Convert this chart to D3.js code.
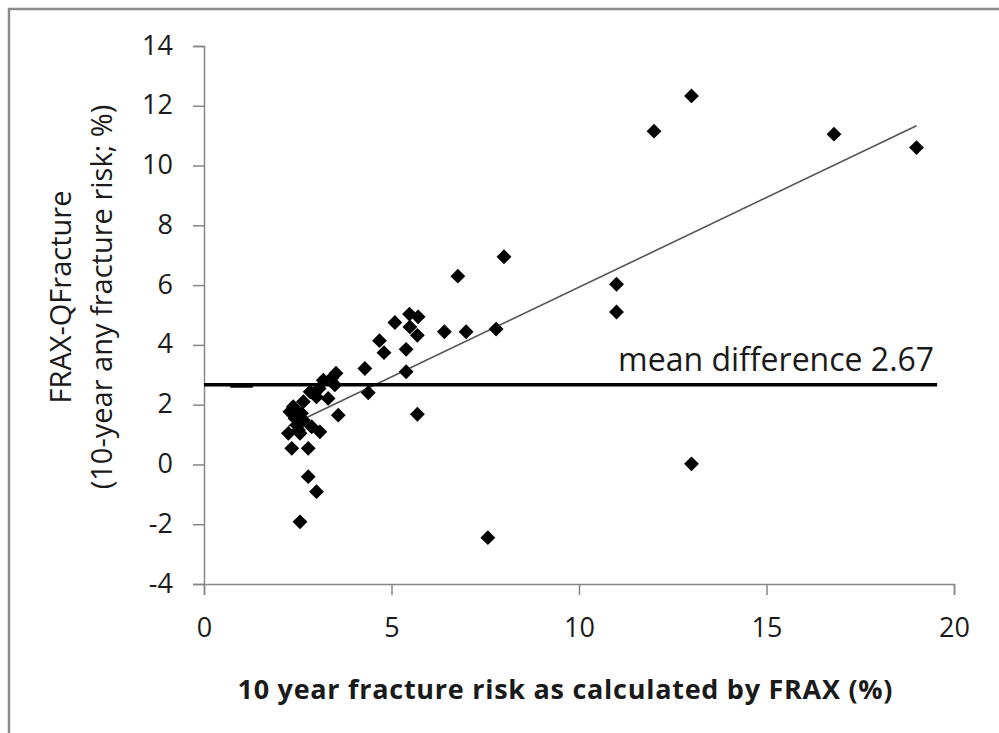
<!DOCTYPE html>
<html>
<head>
<meta charset="utf-8">
<script src="https://cdn.jsdelivr.net/npm/d3@7/dist/d3.min.js"></script>
<style>
  html, body { margin: 0; padding: 0; background: #fff; }
  svg { display: block; }
  text { font-family: "Open Sans", "Noto Sans", sans-serif; fill: #1a1a1a; }
</style>
</head>
<body>
<svg id="chart" width="999" height="733"></svg>
<script>
// FRAX (x) vs FRAX - QFracture difference (y), 10-year fracture risk (%)
const fraxRisk = [
  2.25, 2.34, 2.29, 2.38, 2.43, 2.47, 2.52, 2.52, 2.56, 2.60,
  2.65, 2.65, 2.78, 2.78, 2.56, 3.00, 2.83, 2.87, 3.09, 3.00,
  3.07, 3.31, 3.18, 3.40, 3.52, 3.49, 3.58,
  4.29, 4.38, 4.68, 4.80, 5.09, 5.39, 5.39, 5.48, 5.49, 5.71,
  5.69, 5.69, 6.41, 6.99, 6.77, 7.79, 8.00, 7.57,
  11.0, 11.0, 12.0, 13.0, 13.0, 16.8, 19.0
];
const riskDifference = [
  1.04, 0.54, 1.76, 1.93, 1.54, 1.32, 1.15, 1.65, 1.04, 1.71,
  2.10, 1.48, 0.54, -0.41, -1.92, -0.91, 2.43, 1.26, 1.09, 2.26,
  2.54, 2.21, 2.82, 2.88, 3.05, 2.66, 1.65,
  3.21, 2.40, 4.14, 3.74, 4.75, 3.85, 3.10, 5.03, 4.60, 4.94,
  4.32, 1.68, 4.44, 4.44, 6.30, 4.53, 6.95, -2.45,
  6.03, 5.10, 11.15, 12.33, 0.02, 11.05, 10.60
];

const xTicks = [0, 5, 10, 15, 20];
const yTicks = [-4, -2, 0, 2, 4, 6, 8, 10, 12, 14];

const meanDifference = 2.67;
const meanLineRange = [0, 19.55];
const meanLabel = "mean difference 2.67";

// fitted trend line: y = slope * x + intercept over the data range
const trendSlope = 0.6;
const trendIntercept = -0.07;
const trendRange = [2.25, 19.0];

// short dash sitting just under the mean line near x = 1
const stubRange = [0.7, 1.3];
const stubValue = 2.6;

const xTitle = "10 year fracture risk as calculated by FRAX (%)";
const yTitleLines = ["FRAX-QFracture", "(10-year any fracture risk; %)"];

const svg = d3.select("#chart");
const W = 999, H = 733;
const plot = { left: 204, right: 954, top: 46, bottom: 584 };

const x = d3.scaleLinear().domain([0, 20]).range([plot.left, plot.right]);
const y = d3.scaleLinear().domain([-4, 14]).range([plot.bottom, plot.top]);

const axisColor = "#868686";

// outer frame
svg.append("path")
  .attr("d", `M9,${H + 5} L9,9 L${W + 5},9`)
  .attr("fill", "none")
  .attr("stroke", "#8c8c8c")
  .attr("stroke-width", 2.5);

// y axis
const yAxis = svg.append("g")
  .attr("transform", `translate(${plot.left},0)`)
  .call(d3.axisLeft(y).tickValues(yTicks).tickSize(11).tickPadding(20).tickFormat(d3.format("d")));
yAxis.select(".domain").attr("stroke", axisColor).attr("stroke-width", 1.5);
yAxis.selectAll(".tick line").attr("stroke", axisColor).attr("stroke-width", 1.5);
yAxis.selectAll(".tick text")
  .attr("font-size", 27)
  .attr("fill", "#1a1a1a")
  .attr("font-family", "'Open Sans', sans-serif")
  .attr("dy", "0.3em")
  .text(d => d < 0 ? "-" + Math.abs(d) : d);

// x axis
const xAxis = svg.append("g")
  .attr("transform", `translate(0,${plot.bottom})`)
  .call(d3.axisBottom(x).tickValues(xTicks).tickSize(11).tickPadding(23).tickFormat(d3.format("d")));
xAxis.select(".domain").attr("stroke", axisColor).attr("stroke-width", 1.5);
xAxis.selectAll(".tick line").attr("stroke", axisColor).attr("stroke-width", 1.5);
xAxis.selectAll(".tick text")
  .attr("font-size", 27)
  .attr("fill", "#1a1a1a")
  .attr("font-family", "'Open Sans', sans-serif");

// trend line
svg.append("line")
  .attr("x1", x(trendRange[0]))
  .attr("y1", y(trendSlope * trendRange[0] + trendIntercept))
  .attr("x2", x(trendRange[1]))
  .attr("y2", y(trendSlope * trendRange[1] + trendIntercept))
  .attr("stroke", "#555")
  .attr("stroke-width", 1.6);

// mean difference line
svg.append("line")
  .attr("x1", x(meanLineRange[0]))
  .attr("x2", x(meanLineRange[1]))
  .attr("y1", y(meanDifference))
  .attr("y2", y(meanDifference))
  .attr("stroke", "#000")
  .attr("stroke-width", 3.5);

svg.append("line")
  .attr("x1", x(stubRange[0]))
  .attr("x2", x(stubRange[1]))
  .attr("y1", y(stubValue))
  .attr("y2", y(stubValue))
  .attr("stroke", "#000")
  .attr("stroke-width", 2);

svg.append("text")
  .attr("x", x(meanLineRange[1]) - 3)
  .attr("y", y(meanDifference) - 14)
  .attr("text-anchor", "end")
  .attr("font-size", 32)
  .text(meanLabel);

// data points as diamonds
const diamond = d3.symbol().type(d3.symbolSquare).size(110);
svg.append("g")
  .selectAll("path")
  .data(fraxRisk.map((v, i) => [v, riskDifference[i]]))
  .join("path")
  .attr("d", diamond)
  .attr("transform", d => `translate(${x(d[0])},${y(d[1])}) rotate(45)`)
  .attr("fill", "#000");

// axis titles
svg.append("text")
  .attr("x", 565)
  .attr("y", 699)
  .attr("text-anchor", "middle")
  .attr("font-size", 27)
  .attr("font-weight", "bold")
  .attr("textLength", 655)
  .text(xTitle);

const yTitle = svg.append("text")
  .attr("transform", `translate(0,297) rotate(-90)`)
  .attr("text-anchor", "middle")
  .attr("font-size", 29);
yTitle.append("tspan").attr("x", 0).attr("y", 71).text(yTitleLines[0]);
yTitle.append("tspan").attr("x", 0).attr("y", 112).text(yTitleLines[1]);
</script>
</body>
</html>
